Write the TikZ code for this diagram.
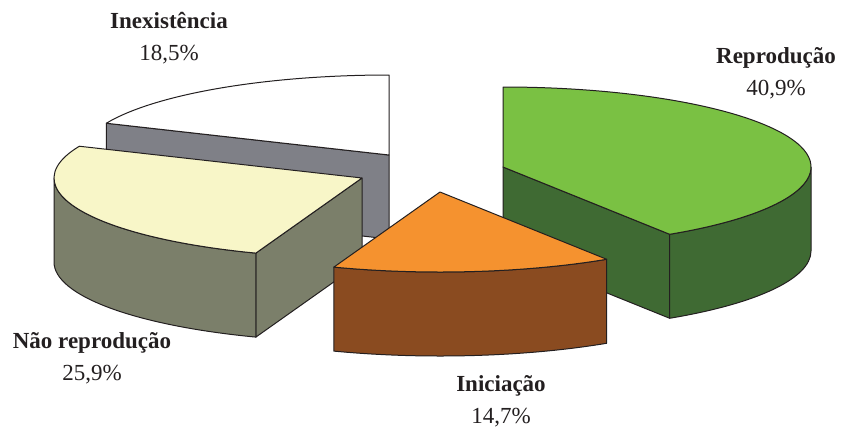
\documentclass[tikz,border=0pt]{standalone}
\usepackage{fontspec}
\setmainfont{Liberation Serif}
\usepackage{xcolor}
\usetikzlibrary{positioning}

\definecolor{greentop}{HTML}{7AC143}
\definecolor{greenside}{HTML}{3F6A33}
\definecolor{greyside}{HTML}{7F8087}
\definecolor{creamtop}{HTML}{F8F6C8}
\definecolor{oliveside}{HTML}{7B7F6A}
\definecolor{orangetop}{HTML}{F5922F}
\definecolor{brownside}{HTML}{8A4B20}
\definecolor{inkc}{HTML}{231F20}

\begin{document}
\begin{tikzpicture}[
  x=1pt, y=1pt,
  face/.style={draw=inkc, line width=1pt, line join=round},
  pie/.style={x radius=308pt, y radius=80pt},
  label/.style={align=center, text=inkc, font=\fontsize{23}{32}\selectfont}
]
\useasboundingbox (0,0) rectangle (842,-429);

% Slice centres
\coordinate (inex) at (389,-155);
\coordinate (naorepro) at (362,-178);
\coordinate (repro) at (503,-167);
\coordinate (inic) at (440,-192);

% Inexistencia
\draw[face, fill=greyside] (inex) -- ++(156.6:308pt and 80pt) -- ++(0,-84) -- ([yshift=-84pt]inex) -- cycle;
\draw[face, fill=white] (inex) -- ++(90:308pt and 80pt) arc[pie, start angle=90, end angle=156.6] -- cycle;

% Nao reproducao
\draw[face, fill=oliveside] (naorepro) -- ++(249.84:308pt and 80pt) -- ++(0,-84) -- ([yshift=-84pt]naorepro) -- cycle;
\draw[face, fill=oliveside] ([shift={(180:308pt and 80pt)}]naorepro) arc[pie, start angle=180, end angle=249.84] -- ++(0,-84) arc[pie, start angle=249.84, end angle=180] -- cycle;
\draw[face, fill=creamtop] (naorepro) -- ++(156.6:308pt and 80pt) arc[pie, start angle=156.6, end angle=249.84] -- cycle;

% Reproducao
\draw[face, fill=greenside] (repro) -- ++(-57.24:308pt and 80pt) -- ++(0,-84) -- ([yshift=-84pt]repro) -- cycle;
\draw[face, fill=greenside] ([shift={(-57.24:308pt and 80pt)}]repro) arc[pie, start angle=-57.24, end angle=0] -- ++(0,-84) arc[pie, start angle=0, end angle=-57.24] -- cycle;
\draw[face, fill=greentop] (repro) -- ++(-57.24:308pt and 80pt) arc[pie, start angle=-57.24, end angle=90] -- cycle;

% Iniciacao
\draw[face, fill=brownside] ([shift={(249.84:308pt and 80pt)}]inic) arc[pie, start angle=249.84, end angle=302.76] -- ++(0,-84) arc[pie, start angle=302.76, end angle=249.84] -- cycle;
\draw[face, fill=orangetop] (inic) -- ++(249.84:308pt and 80pt) arc[pie, start angle=249.84, end angle=302.76] -- cycle;

% Labels
\node[label] (inexlabel) at (169,-38) {\textbf{Inexistência}\\18,5\%};
\node[label] (reprolabel) at (776,-73) {\textbf{Reprodução}\\40,9\%};
\node[label] (naoreprolabel) at (92,-358) {\textbf{Não reprodução}\\25,9\%};
\node[label] (iniclabel) at (501,-401) {\textbf{Iniciação}\\14,7\%};

\end{tikzpicture}
\end{document}
